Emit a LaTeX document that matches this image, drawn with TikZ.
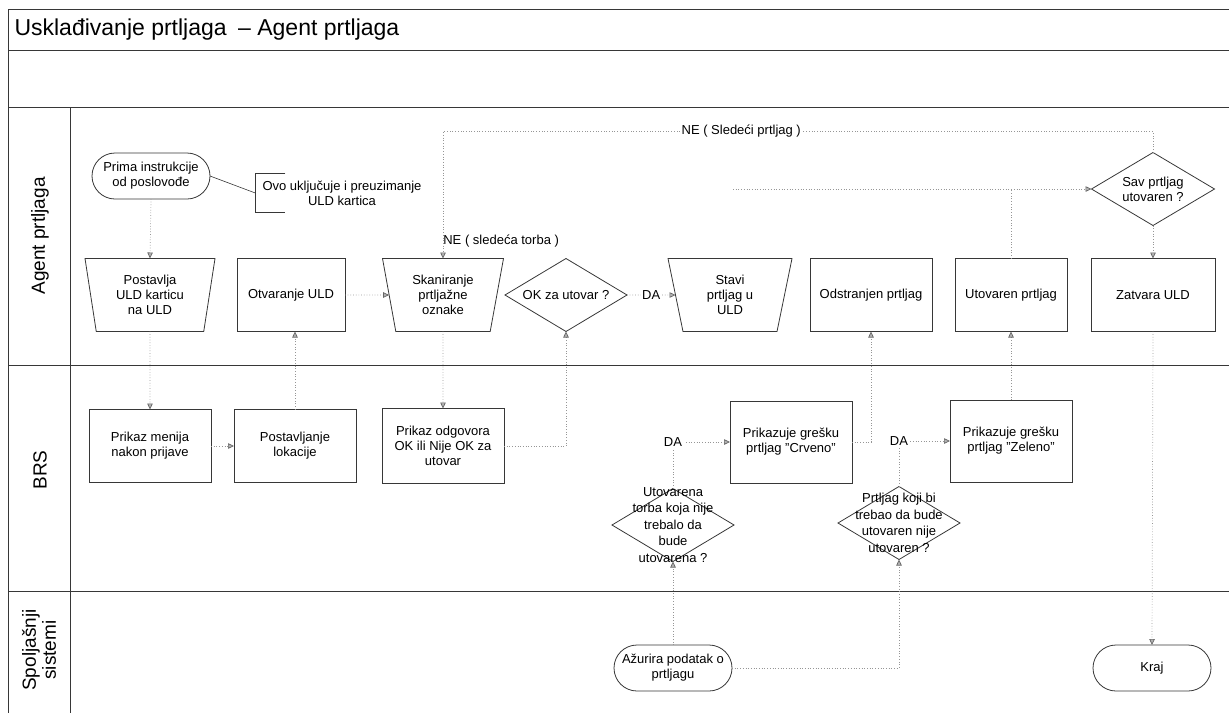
\documentclass[tikz,border=0pt]{standalone}
\usepackage{fontspec}
\setmainfont{Liberation Sans}
\usepackage{tikz}
\usetikzlibrary{positioning,arrows.meta,shapes.geometric,shapes.misc}
\definecolor{scanline}{RGB}{55,55,55}
\definecolor{flowgray}{RGB}{150,150,150}

\begin{document}
\begin{tikzpicture}[
  x=1pt, y=-1pt,
  font=\fontsize{13}{15}\selectfont,
  box/.style={draw=scanline, line width=0.8pt, align=center, minimum width=122pt, minimum height=73pt, inner sep=2pt, outer sep=0pt},
  trap/.style={box, trapezium, shape border rotate=180, trapezium stretches body},
  dec/.style={box, diamond, aspect=1.67, inner sep=0pt},
  term/.style={box, rounded rectangle, minimum height=46pt},
  dtxt/.style={align=center, font=\fontsize{13}{16.5}\selectfont, inner sep=0pt},
  lane/.style={rotate=90, align=center, font=\fontsize{19}{20}\selectfont},
  frame/.style={scanline, line width=0.8pt},
  flow/.style={-{Triangle[length=6pt,width=5.5pt,color=black!60,fill=black!30]}, flowgray, dotted, line width=0.7pt},
  lab/.style={fill=white, text=black, inner sep=1.5pt},
]
\useasboundingbox (0,0) rectangle (1229,713);
% ---- frame and lanes ----
\draw[frame] (1229,9) -- (8,9) -- (8,713);
\draw[frame] (8,50) -- (1229,50);
\draw[frame] (8,107) -- (1229,107);
\draw[frame] (70,107) -- (70,713);
\draw[frame] (8,365) -- (1229,365);
\draw[frame] (8,591) -- (1229,591);
\node[anchor=west, font=\fontsize{23}{23}\selectfont] (title) at (11,30) {Usklađivanje prtljaga\enspace– Agent prtljaga};
\node[lane] (lagent) at (40,236) {Agent prtljaga};
\node[lane] (lbrs) at (40,470) {BRS};
\node[lane] (lext) at (39,650) {Spoljašnji\\sistemi};
% ---- Agent prtljaga ----
\node[term] (prima) at (151,176) {Prima instrukcije\\od poslovođe};
\node[align=center, minimum height=39pt, inner xsep=7pt, inner ysep=0pt] (note) at (342,193) {Ovo uključuje i preuzimanje\\ULD kartica};
\node[trap, minimum width=130pt, trapezium angle=75.5] (postv) at (150,295) {Postavlja\\ULD karticu\\na ULD};
\node[box, minimum width=108pt] (otv) at (291,295) {Otvaranje ULD};
\node[trap, minimum width=121pt, trapezium angle=73] (skan) at (443,295) {Skaniranje\\prtljažne\\oznake};
\node[dec] (okq) at (566,295) {OK za utovar ?};
\node[trap, minimum width=124pt, trapezium angle=71] (stavi) at (730,295) {Stavi\\prtljag u\\ULD};
\node[box] (odstr) at (871,295) {Odstranjen prtljag};
\node[box, minimum width=112pt] (utov) at (1011,295) {Utovaren prtljag};
\node[box, minimum width=124pt] (zatv) at (1153,295) {Zatvara ULD};
\node[dec, minimum width=123pt] (sav) at (1153,189) {Sav prtljag\\utovaren ?};
% ---- BRS ----
\node[box] (meni) at (150,446) {Prikaz menija\\nakon prijave};
\node[box] (lok) at (295,446) {Postavljanje\\lokacije};
\node[box, minimum height=75pt] (odg) at (443,446) {Prikaz odgovora\\OK ili Nije OK za\\utovar};
\node[box, minimum height=82pt] (crv) at (791,442) {Prikazuje grešku\\prtljag "Crveno"};
\node[box, minimum height=82pt] (zel) at (1011,441) {Prikazuje grešku\\prtljag "Zeleno"};
\node[dec] (utq) at (673,525) {};
\node[dtxt] (utqt) at (utq) {Utovarena\\torba koja nije\\trebalo da\\bude\\utovarena ?};
\node[dec] (prtq) at (899,523) {};
\node[dtxt] (prtqt) at (prtq) {Prtljag koji bi\\trebao da bude\\utovaren nije\\utovaren ?};
% ---- Spoljasnji sistemi ----
\node[term] (azur) at (673,668) {Ažurira podatak o\\prtljagu};
\node[term] (kraj) at (1152,668) {Kraj};
% ---- annotation ----
\draw[frame, line width=0.6pt] (prima.east) -- (note.west);
\draw[frame] ([xshift=30pt]note.north west) -- (note.north west) -- (note.south west) -- ([xshift=30pt]note.south west);
% ---- connectors ----
\draw[flow] (prima.south) -- (postv.north);
\draw[flow] (postv.south) -- (meni.north);
\draw[flow] (meni.east) -- (lok.west);
\draw[flow] (lok.north) -- (lok.north |- otv.south);
\draw[flow] (otv.east) -- (skan.west);
\draw[flow] (skan.south) -- (odg.north);
\draw[flow] (odg.east) -| (okq.south);
\draw[flow] (okq.east) -- node[lab] {DA} (stavi.west);
\draw[flow] (utq.north) |- node[pos=0.5, lab] {DA} (crv.west);
\draw[flow] (crv.east) -| (odstr.south);
\draw[flow] (prtq.north) |- node[pos=0.5, lab] {DA} (zel.west);
\draw[flow] (zel.north) -- (utov.south);
\draw[flow] (azur.north) -- (utq.south);
\draw[flow] (azur.east) -| (prtq.south);
% loop back to scanning
\draw[flow] (sav.north) -- ++(0,-21) -| node[pos=0.29, lab] {NE ( Sledeći prtljag )} node[pos=0.93, anchor=west, text=black, inner sep=0pt] {NE ( sledeća torba )} (skan.north);
\coordinate (savin) at (733,189);
\draw[flow] (savin) -- (sav.west);
\draw[flow, -] (utov.north) -- (utov.north |- sav.west);
\draw[flow] (sav.south) -- (zatv.north);
\draw[flow] (zatv.south) -- (kraj.north);
\end{tikzpicture}
\end{document}
